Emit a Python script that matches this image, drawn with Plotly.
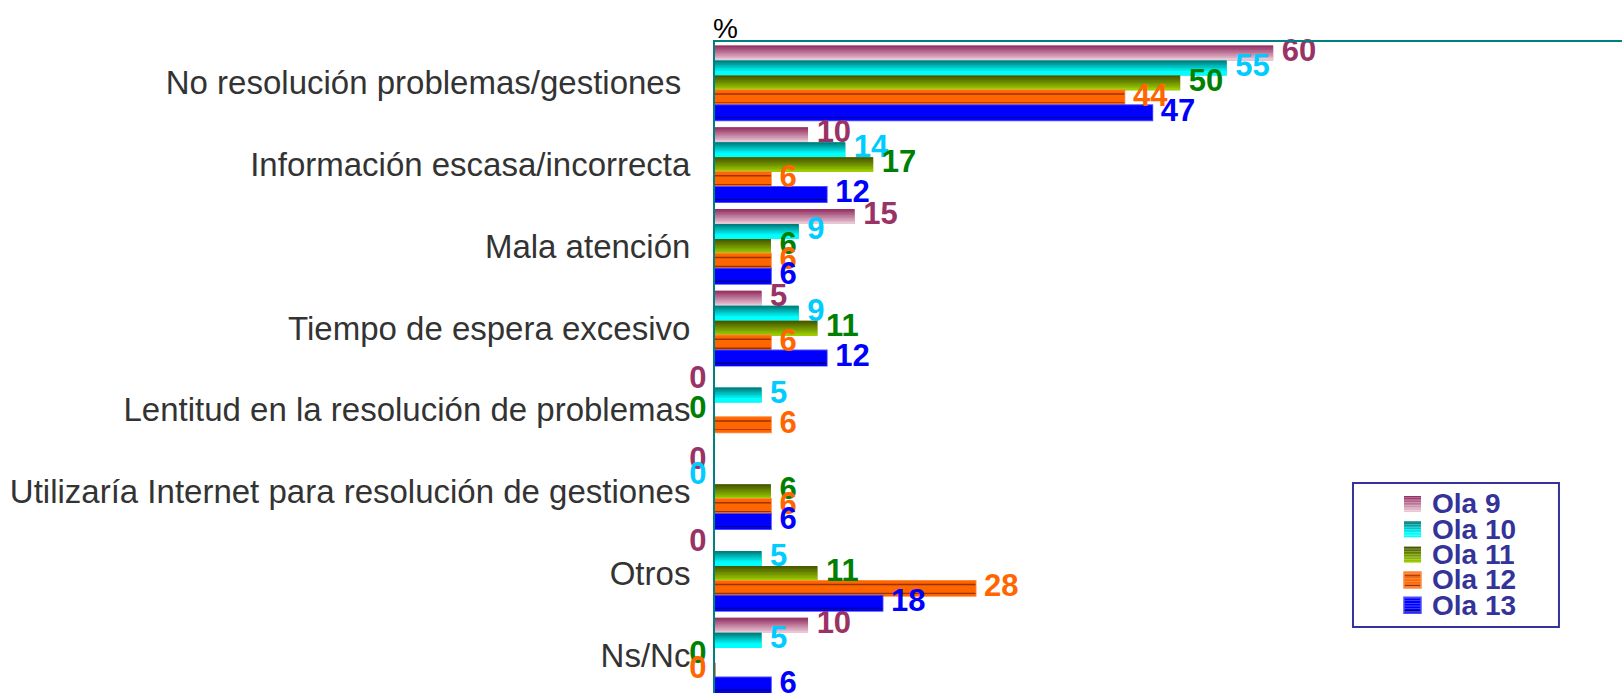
import plotly.graph_objects as go

# Categories (top to bottom) and values per wave
categories = [
    "No resolución problemas/gestiones\u00a0",
    "Información escasa/incorrecta",
    "Mala atención",
    "Tiempo de espera excesivo",
    "Lentitud en la resolución de problemas",
    "Utilizaría Internet para resolución de gestiones",
    "Otros",
    "Ns/Nc",
]
series_names = ["Ola 9", "Ola 10", "Ola 11", "Ola 12", "Ola 13"]
ola9 = [60, 10, 15, 5, 0, 0, 0, 10]
ola10 = [55, 14, 9, 9, 5, 0, 5, 5]
ola11 = [50, 17, 6, 11, 0, 6, 11, 0]
ola12 = [44, 6, 6, 6, 6, 6, 28, 0]
ola13 = [47, 12, 6, 12, None, 6, 18, 6]

series_values = [ola9, ola10, ola11, ola12, ola13]
label_colors = ["#993366", "#00ccff", "#008000", "#ff6600", "#0000ff"]
base_colors = ["#c47a9a", "#00c8c8", "#7a9a00", "#ff6600", "#0000ff"]
outline_colors = [None, None, None, "#ff8a3d", "#4d4dff"]

N_SLICES = 10


def lerp(c1, c2, t):
    return "rgb({},{},{})".format(*[round(a + (b - a) * t) for a, b in zip(c1, c2)])


def slice_colors(k):
    """Vertical colour profile of a bar, from its top edge to its bottom edge."""
    n = N_SLICES
    if k == 0:
        return [lerp((150, 50, 100), (232, 198, 212), j / (n - 1)) for j in range(n)]
    if k == 1:
        return [lerp((0, 125, 125), (0, 255, 255), min(1, j / (n - 3))) for j in range(n)]
    if k == 2:
        return [lerp((72, 88, 0), (155, 205, 0), j / (n - 1)) for j in range(n)]
    if k == 3:
        cols = ["#ff6600"] * n
        cols[2] = "#993300"
        cols[8] = "#993300"
        return cols
    cols = ["#0000ff"] * n
    cols[8] = "#000080"
    return cols


n_series = len(series_names)
gap = 0.085
bar_h = (1 - gap) / n_series
group_start = -0.5 + gap / 2
y_idx = list(range(len(categories)))

fig = go.Figure()

for k, (name, vals) in enumerate(zip(series_names, series_values)):
    off = group_start + k * bar_h
    line = dict(color=outline_colors[k], width=2) if outline_colors[k] else dict(width=0)
    # full bar with its outline
    fig.add_trace(go.Bar(
        x=vals, y=y_idx, orientation="h", name=name,
        offset=off, width=bar_h,
        marker=dict(color=base_colors[k], line=line),
        hoverinfo="skip",
    ))
    # shaded slices giving the vertical gradient / stripes
    d = bar_h / N_SLICES
    for j, col in enumerate(slice_colors(k)):
        w = d if j == N_SLICES - 1 else d * 1.5
        fig.add_trace(go.Bar(
            x=vals, y=y_idx, orientation="h", offset=off + j * d, width=w,
            marker=dict(color=col, line=dict(width=0)),
            hoverinfo="skip",
        ))

# value labels
for k, (name, vals) in enumerate(zip(series_names, series_values)):
    off = group_start + k * bar_h
    xs, ys, txt, pos = [], [], [], []
    for i, v in enumerate(vals):
        if v is None:
            continue
        xs.append(v)
        ys.append(i + off + bar_h / 2)
        if v > 0:
            txt.append("\u00a0" + str(v))
            pos.append("middle right")
        else:
            txt.append(str(v) + "\u00a0")
            pos.append("middle left")
    fig.add_trace(go.Scatter(
        x=xs, y=ys, mode="text", text=txt, textposition=pos,
        textfont=dict(family="Liberation Sans", size=31, color=label_colors[k], weight="bold"),
        hoverinfo="skip", cliponaxis=False,
    ))

# legend box (paper coordinates of the plot area)
PLOT_W, PLOT_H = 907, 651
px = lambda v: v / PLOT_W
py = lambda v: v / PLOT_H
box = dict(x0=0.7034, x1=0.9305, y0=0.1014, y1=0.3226)
shapes = [dict(type="rect", xref="paper", yref="paper", **box,
               line=dict(color="#333399", width=2), fillcolor="white", layer="above")]
annotations = []
first_center = box["y1"] - py(21)
step = py(25.3)
sw_x0 = box["x0"] + px(51)
sw_w, sw_h = px(17), py(16)
for k, name in enumerate(series_names):
    cy = first_center - k * step
    top = cy + sw_h / 2
    cols = slice_colors(k)
    for j, col in enumerate(cols):
        shapes.append(dict(type="rect", xref="paper", yref="paper",
                           x0=sw_x0, x1=sw_x0 + sw_w,
                           y0=top - (j + 1) * sw_h / N_SLICES, y1=top - j * sw_h / N_SLICES,
                           line=dict(width=0), fillcolor=col, layer="above"))
    if outline_colors[k]:
        shapes.append(dict(type="rect", xref="paper", yref="paper",
                           x0=sw_x0, x1=sw_x0 + sw_w, y0=top - sw_h, y1=top,
                           line=dict(color=outline_colors[k], width=1.5), layer="above"))
    annotations.append(dict(
        text=name, xref="paper", yref="paper", x=sw_x0 + sw_w + px(9), y=cy,
        xanchor="left", yanchor="middle", showarrow=False,
        font=dict(family="Liberation Sans", size=28, color="#333399", weight="bold"),
    ))

annotations.append(dict(
    text="%", xref="paper", yref="paper", x=0, y=1, xanchor="left", yanchor="bottom",
    xshift=-4, yshift=-4, showarrow=False,
    font=dict(family="Liberation Sans", size=28, color="black"),
))

fig.update_layout(
    width=1622, height=693,
    margin=dict(l=715, r=0, t=42, b=0, pad=0),
    barmode="overlay",
    paper_bgcolor="white", plot_bgcolor="white",
    font=dict(family="Liberation Sans"),
    showlegend=False,
    xaxis=dict(
        range=[0, 97.5], side="top", showline=True, linecolor="#008080", linewidth=2,
        showgrid=False, zeroline=False, showticklabels=False, ticks="",
    ),
    yaxis=dict(
        range=[7.463, -0.5], tickmode="array", tickvals=y_idx, ticktext=categories,
        showline=True, linecolor="#008080", linewidth=2, showgrid=False, zeroline=False,
        ticks="", ticklabelstandoff=16,
        tickfont=dict(family="Liberation Sans", size=33, color="#333333"),
    ),
    shapes=shapes,
    annotations=annotations,
)

fig.write_html("out.html", config={"displayModeBar": False})
